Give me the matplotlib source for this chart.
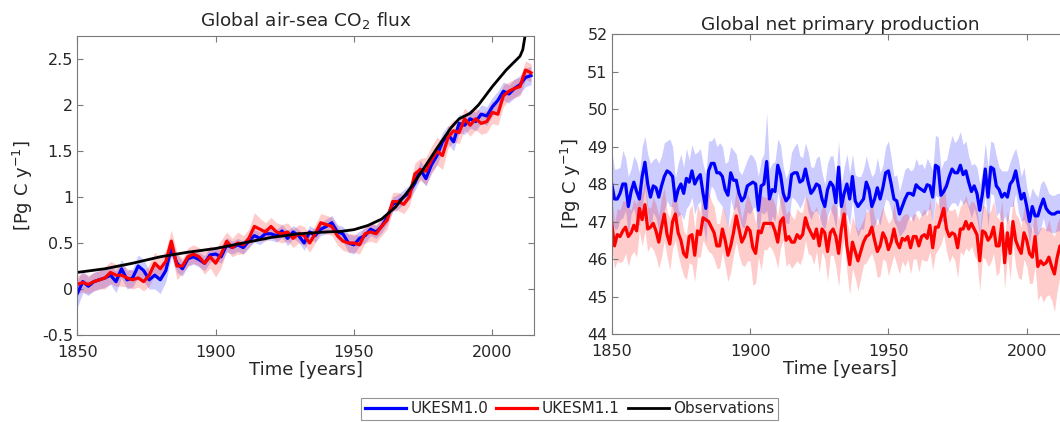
import matplotlib
matplotlib.use("Agg")
import matplotlib.pyplot as plt
import numpy as np

# ---- left panel: air-sea CO2 flux (every second year) ----
years_co2 = np.arange(1850, 2015, 2)
co2_uk10 = [-0.05, 0.08, 0.03, 0.08, 0.1, 0.12, 0.15, 0.08, 0.22, 0.1,
            0.12, 0.25, 0.2, 0.1, 0.15, 0.1, 0.2, 0.45, 0.28, 0.22,
            0.33, 0.35, 0.32, 0.28, 0.37, 0.38, 0.35, 0.48, 0.45, 0.48,
            0.45, 0.52, 0.58, 0.55, 0.6, 0.6, 0.58, 0.63, 0.55, 0.62,
            0.58, 0.5, 0.62, 0.58, 0.65, 0.68, 0.72, 0.62, 0.6, 0.5,
            0.48, 0.55, 0.58, 0.65, 0.62, 0.68, 0.78, 0.92, 0.95, 1.0,
            1.05, 1.15, 1.3, 1.2, 1.35, 1.45, 1.6, 1.68, 1.6, 1.8,
            1.78, 1.85, 1.82, 1.9, 1.88, 1.98, 2.05, 2.15, 2.12, 2.18,
            2.22, 2.3, 2.32]
co2_uk10_sd = [0.15, 0.12, 0.1, 0.1, 0.1, 0.1, 0.1, 0.12, 0.1, 0.1,
               0.1, 0.12, 0.12, 0.1, 0.15, 0.15, 0.12, 0.1, 0.1, 0.08,
               0.08, 0.08, 0.08, 0.08, 0.08, 0.07, 0.07, 0.08, 0.07, 0.07,
               0.07, 0.07, 0.07, 0.07, 0.07, 0.07, 0.07, 0.07, 0.08, 0.07,
               0.07, 0.08, 0.07, 0.07, 0.07, 0.08, 0.08, 0.08, 0.08, 0.1,
               0.1, 0.08, 0.08, 0.07, 0.07, 0.07, 0.07, 0.08, 0.08, 0.08,
               0.08, 0.08, 0.1, 0.08, 0.08, 0.1, 0.1, 0.1, 0.1, 0.1,
               0.1, 0.1, 0.1, 0.1, 0.1, 0.1, 0.1, 0.1, 0.1, 0.1,
               0.1, 0.1, 0.1]
co2_uk11 = [0.05, 0.07, 0.05, 0.08, 0.1, 0.12, 0.18, 0.15, 0.15, 0.12,
            0.1, 0.12, 0.08, 0.15, 0.28, 0.22, 0.3, 0.52, 0.25, 0.25,
            0.35, 0.38, 0.35, 0.28, 0.35, 0.28, 0.38, 0.52, 0.45, 0.5,
            0.48, 0.55, 0.68, 0.65, 0.62, 0.68, 0.62, 0.6, 0.62, 0.55,
            0.6, 0.58, 0.5, 0.6, 0.72, 0.7, 0.68, 0.58, 0.52, 0.5,
            0.5, 0.48, 0.6, 0.62, 0.6, 0.68, 0.75, 0.95, 0.95, 0.92,
            1.0, 1.25, 1.3, 1.28, 1.4, 1.5, 1.45, 1.65, 1.72, 1.7,
            1.85, 1.78, 1.85, 1.8, 1.82, 1.92, 1.9, 2.1, 2.15, 2.18,
            2.2, 2.38, 2.35]
co2_uk11_sd = [0.1, 0.1, 0.1, 0.1, 0.1, 0.12, 0.12, 0.12, 0.12, 0.1,
               0.1, 0.1, 0.1, 0.12, 0.12, 0.12, 0.12, 0.12, 0.15, 0.08,
               0.1, 0.1, 0.1, 0.12, 0.12, 0.15, 0.15, 0.1, 0.1, 0.12,
               0.1, 0.1, 0.15, 0.12, 0.1, 0.1, 0.1, 0.1, 0.1, 0.1,
               0.1, 0.1, 0.1, 0.1, 0.1, 0.1, 0.1, 0.1, 0.1, 0.1,
               0.1, 0.1, 0.1, 0.1, 0.1, 0.1, 0.1, 0.1, 0.1, 0.1,
               0.1, 0.12, 0.12, 0.15, 0.15, 0.15, 0.15, 0.12, 0.12, 0.12,
               0.12, 0.12, 0.12, 0.12, 0.12, 0.12, 0.12, 0.12, 0.1, 0.1,
               0.1, 0.1, 0.1]
obs_years = [1850, 1860, 1870, 1880, 1890, 1900, 1910, 1920, 1930, 1940,
             1945, 1950, 1955, 1960, 1965, 1970, 1975, 1980, 1985, 1988,
             1990, 1992, 1995, 2000, 2005, 2008, 2010, 2011, 2012, 2013]
obs_co2 = [0.18, 0.22, 0.28, 0.35, 0.40, 0.44, 0.5, 0.56, 0.6, 0.62,
           0.625, 0.645, 0.69, 0.76, 0.89, 1.08, 1.3, 1.53, 1.75, 1.85,
           1.88, 1.91, 2.0, 2.2, 2.38, 2.47, 2.53, 2.6, 2.78, 3.0]

# ---- right panel: net primary production (annual) ----
years_npp = np.arange(1850, 2015)
npp_uk10 = [48.0, 47.6, 47.6, 47.75, 48.0, 48.0, 47.4, 47.8, 48.05, 47.8,
            47.6, 48.2, 48.58, 48.0, 47.65, 47.95, 47.9, 47.65, 47.95, 48.2,
            48.35, 48.3, 48.2, 47.55, 47.85, 48.0, 47.75, 48.15, 48.05, 48.35,
            48.0, 48.15, 48.25, 47.75, 47.35, 48.35, 48.55, 48.55, 48.3, 48.3,
            48.2, 47.85, 47.7, 48.3, 48.1, 48.1, 47.75, 47.55, 47.65, 47.95,
            48.0, 48.05, 48.0, 47.3, 47.95, 48.0, 48.6, 47.6, 47.85, 47.8,
            48.5, 48.25, 47.75, 47.55, 47.65, 48.25, 48.3, 48.3, 48.05, 48.1,
            48.4, 48.05, 47.75, 47.85, 48.0, 47.95, 47.6, 47.4, 47.85, 48.05,
            47.95, 47.5, 48.45, 47.4, 47.75, 48.0, 47.6, 48.2, 47.55, 47.4,
            47.5, 47.6, 48.05, 47.85, 47.4, 47.6, 47.9, 47.6, 47.9, 48.3,
            48.35, 48.0, 47.6, 47.55, 47.2, 47.4, 47.6, 47.75, 47.75, 47.7,
            47.98, 47.9, 47.85, 47.8, 47.98, 47.95, 47.65, 48.5, 48.45, 47.7,
            47.8, 47.95, 48.2, 48.4, 48.3, 48.3, 48.5, 48.25, 48.35, 48.05,
            47.8, 47.95, 47.75, 47.3, 47.75, 48.4, 47.65, 48.45, 48.4, 47.95,
            47.85, 47.65, 47.75, 47.65, 48.0, 48.1, 48.35, 47.95, 47.6, 47.75,
            47.4, 47.0, 47.4, 47.15, 47.15, 47.4, 47.6, 47.35, 47.25, 47.2,
            47.2, 47.25, 47.25, 47.2, 47.2]
npp_uk10_sd = [0.9, 0.8, 0.8, 0.7, 0.9, 0.7, 0.8, 0.6, 0.7, 0.8,
               0.7, 0.8, 0.7, 0.8, 0.9, 0.7, 0.8, 0.9, 0.8, 0.9,
               0.8, 0.9, 0.8, 0.6, 0.7, 0.8, 0.7, 0.8, 0.6, 0.7,
               0.8, 0.7, 0.7, 0.8, 0.9, 0.8, 0.6, 0.7, 0.7, 0.8,
               0.8, 0.7, 0.9, 0.7, 0.8, 0.7, 0.6, 0.7, 0.8, 0.7,
               0.8, 0.7, 0.6, 0.9, 0.7, 0.8, 1.3, 0.8, 0.7, 0.8,
               0.7, 0.8, 0.7, 0.6, 0.7, 0.6, 0.7, 0.8, 0.7, 0.6,
               0.7, 0.8, 0.7, 0.6, 0.7, 0.8, 0.7, 0.6, 0.7, 0.7,
               0.8, 0.7, 0.7, 0.6, 0.7, 0.8, 0.7, 0.6, 0.7, 0.8,
               0.7, 0.8, 0.7, 0.6, 0.8, 0.7, 0.8, 0.7, 0.6, 0.7,
               0.8, 0.7, 0.6, 0.7, 0.6, 0.7, 0.8, 0.7, 0.6, 0.7,
               0.7, 0.6, 0.7, 0.6, 0.7, 0.6, 0.7, 0.8, 0.8, 0.7,
               0.8, 0.7, 0.8, 0.9, 0.8, 0.9, 0.9, 0.8, 0.8, 0.7,
               0.7, 0.6, 0.7, 0.7, 0.6, 0.7, 0.8, 0.7, 0.7, 0.8,
               0.6, 0.7, 0.6, 0.7, 0.6, 0.7, 0.6, 0.7, 0.6, 0.7,
               0.5, 0.6, 0.5, 0.6, 0.5, 0.6, 0.5, 0.6, 0.5, 0.5,
               0.5, 0.5, 0.5, 0.5, 0.5]
npp_uk11 = [46.97, 46.35, 46.65, 46.6, 46.75, 46.85, 46.6, 46.7, 46.9, 46.75,
            47.35, 47.05, 47.45, 46.8, 46.85, 46.95, 46.75, 46.45, 46.85, 47.2,
            46.65, 46.4, 47.0, 47.2, 46.7, 46.5, 46.15, 46.05, 46.6, 46.65,
            46.1, 46.75, 46.65, 47.1, 47.05, 47.0, 46.85, 46.7, 46.35, 46.35,
            46.8, 46.5, 46.1, 46.35, 46.7, 47.15, 46.8, 46.45, 46.6, 46.85,
            46.75, 46.3, 46.15, 46.75, 46.7, 46.95, 46.95, 46.95, 46.95, 46.75,
            46.45, 47.0, 47.1, 46.5, 46.6, 46.45, 46.45, 46.65, 46.55, 46.65,
            47.1, 46.85, 46.7, 46.55, 46.8, 46.35, 46.8, 46.7, 46.2, 46.7,
            46.8, 46.6, 46.15, 46.8, 47.2, 46.35, 45.85, 46.45, 46.2, 45.95,
            46.2, 46.45, 46.6, 46.65, 46.85, 46.5, 46.2, 46.35, 46.7, 46.55,
            46.25, 46.45, 46.8, 46.45, 46.3, 46.55, 46.5, 46.6, 46.3, 46.6,
            46.6, 46.35, 46.6, 46.65, 46.55, 46.9, 46.3, 46.85, 46.85, 47.1,
            47.35, 46.8, 46.6, 46.7, 46.65, 46.3, 46.8, 46.8, 47.0, 46.8,
            46.95, 46.8, 46.65, 45.95, 46.75, 46.7, 46.5, 46.6, 46.85, 46.35,
            46.35, 46.95, 45.9, 46.7, 46.15, 47.0, 46.5, 46.3, 46.15, 46.7,
            46.5, 46.15, 46.05, 46.6, 45.8, 45.95, 45.85, 45.9, 46.05, 45.8,
            45.6, 46.05, 46.35, 46.35, 46.3]
npp_uk11_sd = [0.7, 0.6, 0.7, 0.7, 0.8, 0.7, 0.8, 0.6, 0.7, 0.7,
               0.6, 0.7, 0.7, 0.6, 0.5, 0.7, 0.7, 0.7, 0.8, 0.7,
               0.6, 0.7, 0.7, 0.7, 0.6, 0.7, 0.6, 0.6, 0.7, 0.8,
               0.7, 0.7, 0.6, 0.6, 0.7, 0.8, 0.7, 0.7, 0.6, 0.6,
               0.6, 0.7, 0.7, 0.7, 0.6, 0.7, 0.7, 0.6, 0.8, 0.9,
               0.8, 1.0, 0.8, 0.7, 1.0, 0.7, 0.7, 0.6, 0.7, 0.7,
               0.7, 0.7, 0.6, 0.7, 0.7, 0.7, 0.6, 0.7, 0.7, 0.6,
               0.6, 0.7, 0.6, 0.7, 0.6, 0.7, 0.6, 0.7, 0.8, 0.6,
               0.7, 0.8, 0.9, 0.7, 0.6, 0.7, 0.8, 0.7, 0.7, 0.8,
               0.7, 0.6, 0.7, 0.6, 0.7, 0.6, 0.7, 0.8, 0.7, 0.6,
               0.7, 0.6, 0.7, 0.6, 0.7, 0.6, 0.7, 0.6, 0.7, 0.6,
               0.6, 0.7, 0.6, 0.7, 0.6, 0.7, 0.6, 0.7, 0.6, 0.7,
               0.7, 0.6, 0.7, 0.6, 0.7, 0.8, 0.6, 0.7, 0.7, 0.6,
               0.6, 0.7, 0.7, 0.8, 0.7, 0.7, 0.7, 0.7, 0.7, 0.8,
               0.7, 0.6, 0.7, 0.6, 0.7, 0.6, 0.7, 0.8, 0.7, 0.7,
               0.7, 0.8, 0.7, 0.8, 0.9, 0.9, 1.0, 0.9, 1.0, 0.9,
               1.0, 0.9, 0.8, 0.9, 0.8]

co2_ticks = [-0.5, 0, 0.5, 1, 1.5, 2, 2.5]
co2_ticklabels = ['-0.5', '0', '0.5', '1', '1.5', '2', '2.5']
npp_ticks = [44, 45, 46, 47, 48, 49, 50, 51, 52]
year_ticks = [1850, 1900, 1950, 2000]

plt.rcParams['font.family'] = 'DejaVu Sans'
txt = '#262626'
frame = '#7a7a7a'

fig = plt.figure(figsize=(10.6, 4.22), dpi=100)
ax1 = fig.add_axes([0.0729, 0.2062, 0.4307, 0.7085])
ax2 = fig.add_axes([0.5771, 0.2085, 0.4307, 0.7109])


def band(ax, x, m, sd, col, lw=2.3, label=None):
    m = np.array(m)
    sd = np.array(sd)
    ax.fill_between(x, m - sd, m + sd, color=col, alpha=0.2, linewidth=0)
    ax.plot(x, m, color=col, linewidth=lw, label=label)


band(ax1, years_co2, co2_uk10, co2_uk10_sd, 'blue', label='UKESM1.0')
band(ax1, years_co2, co2_uk11, co2_uk11_sd, 'red', label='UKESM1.1')
ax1.plot(obs_years, obs_co2, color='black', linewidth=2.0, label='Observations')

band(ax2, years_npp, npp_uk10, npp_uk10_sd, 'blue')
band(ax2, years_npp, npp_uk11, npp_uk11_sd, 'red')

ax1.set_ylim(-0.5, 2.75)
ax1.set_yticks(co2_ticks)
ax1.set_yticklabels(co2_ticklabels)
ax1.set_title('Global air-sea CO$_2$ flux', fontsize=13.3, color=txt, pad=7)

ax2.set_ylim(44, 52)
ax2.set_yticks(npp_ticks)
ax2.set_title('Global net primary production', fontsize=13.3, color=txt, pad=3)

for ax in (ax1, ax2):
    ax.set_xlim(1850, 2015)
    ax.set_xticks(year_ticks)
    ax.tick_params(direction='in', top=True, right=True, labelsize=11.5,
                   colors=frame, labelcolor=txt, length=4, width=0.8, pad=3)
    ax.tick_params(axis='x', pad=7)
    for s in ax.spines.values():
        s.set_color(frame)
        s.set_linewidth(0.8)
    ax.set_xlabel('Time [years]', fontsize=13, color=txt, labelpad=1)

ax1.set_ylabel('[Pg C y$^{-1}$]', fontsize=13, color=txt, labelpad=5)
ax2.set_ylabel('[Pg C y$^{-1}$]', fontsize=13, color=txt, labelpad=3)

leg = fig.legend(loc='center', bbox_to_anchor=(0.5375, 0.031), ncol=3,
                 fontsize=11, frameon=True, fancybox=False, handlelength=2.7,
                 handletextpad=0.3, columnspacing=0.5, borderpad=0.25,
                 edgecolor=frame)
leg.get_frame().set_linewidth(0.8)
for t in leg.get_texts():
    t.set_color(txt)

fig.savefig('out.png', dpi=100)
